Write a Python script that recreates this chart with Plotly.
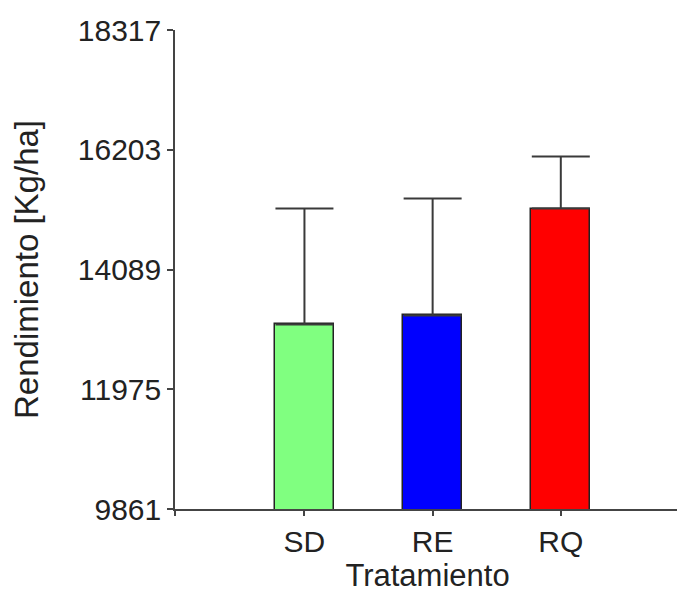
import plotly.graph_objects as go

categories = ["SD", "RE", "RQ"]
means = [13119, 13278, 15164]
sd_err = [2045, 2063, 919]
colors = ["#80FF80", "#0000FF", "#FF0000"]
ytick_vals = [9861, 11975, 14089, 16203, 18317]
ytick_text = ["9861", "11975", "14089", "16203", "18317"]

xpos = list(range(len(categories)))
xrange_ = [-1.01, 2.93]

fig = go.Figure()
fig.add_trace(go.Bar(
    x=xpos, y=means, width=0.46,
    marker=dict(color=colors, line=dict(color="#222222", width=1.5)),
    error_y=dict(type="data", symmetric=False, array=sd_err,
                 arrayminus=[0] * len(categories),
                 color="#3a3a3a", thickness=2, width=29),
    showlegend=False,
))

font_family = "Liberation Sans, Arial, sans-serif"
# page body adds an 8px offset, so the figure is sized to fit the window
fig.update_layout(
    width=677, height=585,
    margin=dict(l=167, r=5, t=22, b=84),
    paper_bgcolor="white", plot_bgcolor="white",
    font=dict(family=font_family, size=30, color="#222222"),
    bargap=0,
)
fig.update_xaxes(
    range=xrange_,
    tickmode="array",
    tickvals=[xrange_[0]] + xpos,
    ticktext=[""] + categories,
    ticks="outside", ticklen=5, tickwidth=1.5, tickcolor="#444444",
    showline=True, linecolor="#444444", linewidth=1.5,
    showgrid=False, zeroline=False,
    tickfont=dict(size=30),
    title=dict(text="Tratamiento", font=dict(size=31), standoff=7),
)
fig.update_yaxes(
    range=[ytick_vals[0], ytick_vals[-1]],
    tickmode="array", tickvals=ytick_vals, ticktext=ytick_text,
    ticks="outside", ticklen=6, tickwidth=1.5, tickcolor="#444444",
    showline=True, linecolor="#444444", linewidth=1.5,
    showgrid=False, zeroline=False,
    tickfont=dict(size=30),
    title=dict(text="Rendimiento [Kg/ha]", font=dict(size=33), standoff=32),
)

fig.write_html("out.html")
